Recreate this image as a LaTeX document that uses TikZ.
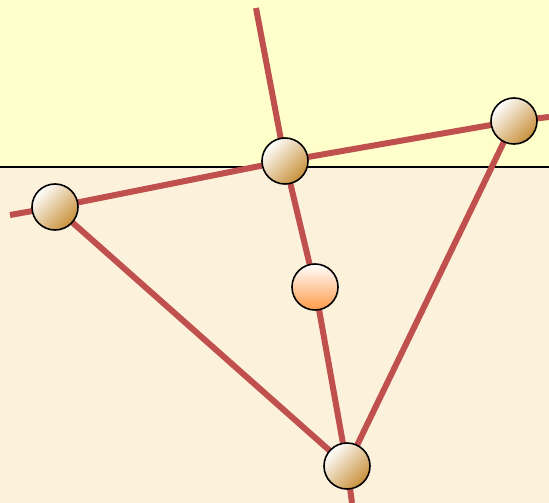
\documentclass[tikz,border=0pt]{standalone}
\pgfdeclarelayer{bg}
\pgfsetlayers{bg,main}
\begin{document}
\begin{tikzpicture}[x=1pt,y=-1pt,
  road/.style={draw=roadR, line width=6pt},
  ball/.style={circle, draw=black, line width=1.6pt, minimum size=46pt, inner sep=0pt,
    shading=axis, top color=white, middle color=ballMid, bottom color=ballTan, shading angle=45},
  ballO/.style={ball, middle color=ballOMid, bottom color=ballOrange}]
\definecolor{skyY}{HTML}{FFFFCC}
\definecolor{groundB}{HTML}{FCF2DB}
\definecolor{roadR}{HTML}{C0504D}
\definecolor{ballTan}{HTML}{C8903A}
\definecolor{ballMid}{HTML}{F6EEE2}
\definecolor{ballOrange}{HTML}{FF9A48}
\definecolor{ballOMid}{HTML}{FFE0CC}
\useasboundingbox (0,0) rectangle (549,503);
\node[ball] (A) at (55,207) {};
\node[ball] (B) at (285,161) {};
\node[ball] (C) at (514,121) {};
\node[ballO] (D) at (315,287) {};
\node[ball] (E) at (347,466) {};
\coordinate (L) at (10,215);
\coordinate (R) at (549,117);
\coordinate (T) at (256,8);
\coordinate (Bt) at (352,503);
\begin{pgfonlayer}{bg}
\fill[skyY] (0,0) rectangle (549,167);
\fill[groundB] (0,167) rectangle (549,503);
\draw[black, line width=1.5pt] (0,167) -- (549,167);
\draw[road] (L) -- (A.center) -- (B.center) -- (C.center) -- (R);
\draw[road] (T) -- (B.center) -- (D.center) -- (E.center) -- (Bt);
\draw[road] (A.center) -- (E.center);
\draw[road] (C.center) -- (E.center);
\end{pgfonlayer}
\end{tikzpicture}
\end{document}
